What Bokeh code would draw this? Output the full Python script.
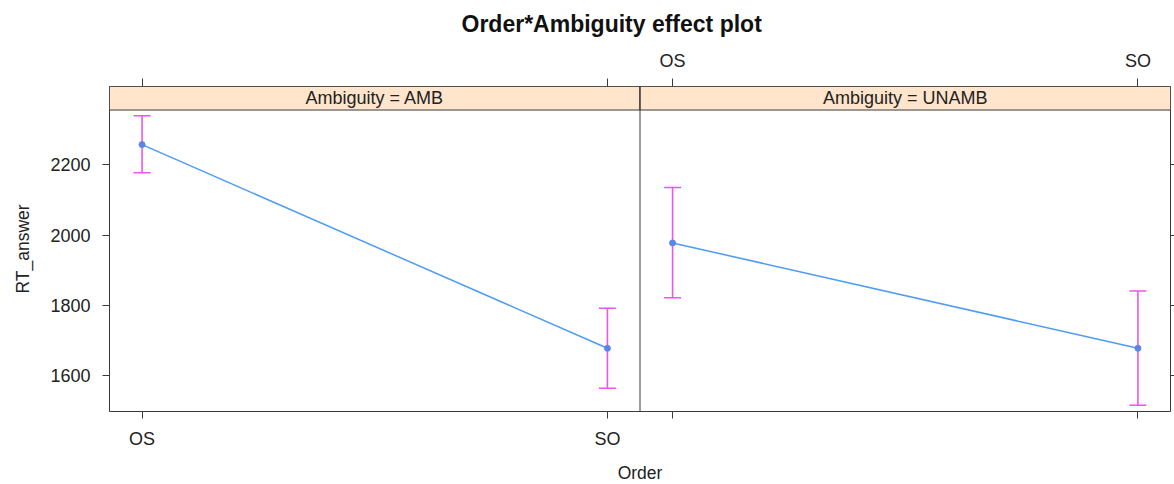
from bokeh.plotting import figure
from bokeh.models import (Range1d, FixedTicker, LinearAxis, ColumnDataSource,
                          Whisker, TeeHead, Span)
from bokeh.core.properties import value
from bokeh.embed import file_html
from bokeh.resources import INLINE

# ---------------- data ----------------
orders = ["OS", "SO"]
panels = ["AMB", "UNAMB"]
fit_amb = [2258, 1678]
lower_amb = [2178, 1564]
upper_amb = [2340, 1792]
fit_unamb = [1978, 1678]
lower_unamb = [1822, 1516]
upper_unamb = [2136, 1841]
y_ticks = [1600, 1800, 2000, 2200]
strip_prefix = "Ambiguity = "
title_text = "Order*Ambiguity effect plot"
x_label = "Order"
y_label = "RT_answer"

fits = [fit_amb, fit_unamb]
lowers = [lower_amb, lower_unamb]
uppers = [upper_amb, upper_unamb]

# ---------------- layout helpers ----------------
PAD = 0.07                 # lattice axis padding
SPAN = 1 + 2 * PAD         # x-extent of one panel
Y_LO, Y_PANEL_TOP, Y_TOP = 1498, 2356.5, 2423.5

def xpos(pi, oi):
    return pi * SPAN + oi

FONT = "Liberation Sans"
INK = "#3a3a3a"
TXT = "#222222"
LINE_C = "#4d9bf5"
CI_C = "#ee55ee"

p = figure(frame_width=1061, frame_height=325,
           x_range=Range1d(-PAD, 2 * SPAN - PAD),
           y_range=Range1d(Y_LO, Y_TOP),
           output_backend="svg", toolbar_location=None,
           min_border_left=109, min_border_right=4,
           min_border_top=86, min_border_bottom=72)
p.grid.grid_line_color = None
p.outline_line_color = INK
p.outline_line_width = 1
p.background_fill_color = "white"
p.border_fill_color = "white"

# title
p.title.text = title_text
p.title.text_font = FONT
p.title.text_font_size = "23px"
p.title.text_font_style = "bold"
p.title.text_color = "#111111"
p.title.align = "left"
p.title.offset = 352
p.title.vertical_align = "top"
p.title.standoff = 18

def style_axis(ax, tick_len):
    ax.axis_line_color = None
    ax.major_tick_line_color = INK
    ax.minor_tick_line_color = INK
    ax.major_tick_in = 0
    ax.minor_tick_in = 0
    ax.major_tick_out = tick_len
    ax.minor_tick_out = tick_len
    ax.major_label_text_font = FONT
    ax.major_label_text_font_size = "18px"
    ax.major_label_text_color = TXT
    ax.axis_label_text_font = FONT
    ax.axis_label_text_font_size = "17.5px"
    ax.axis_label_text_font_style = "normal"
    ax.axis_label_text_color = TXT

left_ticks = [xpos(0, i) for i in range(len(orders))]
right_ticks = [xpos(1, i) for i in range(len(orders))]

# bottom axis: labels on first panel
bx = p.xaxis[0]
bx.ticker = FixedTicker(ticks=left_ticks, minor_ticks=right_ticks)
bx.major_label_overrides = {t: o for t, o in zip(left_ticks, orders)}
style_axis(bx, 7)
bx.major_label_standoff = 10
bx.axis_label = x_label
bx.axis_label_standoff = 11

# top axis: labels on second panel
tx = LinearAxis(ticker=FixedTicker(ticks=right_ticks, minor_ticks=left_ticks),
                major_label_overrides={t: o for t, o in zip(right_ticks, orders)})
style_axis(tx, 8)
tx.major_label_standoff = 8
p.add_layout(tx, "above")

# left axis
ly = p.yaxis[0]
ly.ticker = FixedTicker(ticks=y_ticks)
style_axis(ly, 7)
ly.major_label_standoff = 12
ly.axis_label = y_label
ly.axis_label_standoff = 14

# right axis: ticks only
ry = LinearAxis(ticker=FixedTicker(ticks=[], minor_ticks=y_ticks))
style_axis(ry, 4)
ry.major_label_standoff = 0
p.add_layout(ry, "right")

# strips
strip_src = ColumnDataSource(dict(
    left=[xpos(i, 0) - PAD for i in range(len(panels))],
    right=[xpos(i, 1) + PAD for i in range(len(panels))],
    xc=[xpos(i, 0.5) for i in range(len(panels))],
    label=[strip_prefix + pn for pn in panels],
))
p.quad(left="left", right="right", bottom=Y_PANEL_TOP, top=Y_TOP,
       source=strip_src, fill_color="#ffe5cc", line_color=INK, line_width=1)
p.text(x="xc", y=(Y_PANEL_TOP + Y_TOP) / 2, text="label", source=strip_src,
       text_align="center", text_baseline="middle",
       text_font=value(FONT), text_font_size="18px", text_color=TXT)

# panel divider
p.add_layout(Span(location=xpos(0, 1) + PAD, dimension="height",
                  line_color=INK, line_width=1))

# data
for pi, pn in enumerate(panels):
    src = ColumnDataSource(dict(
        x=[xpos(pi, oi) for oi in range(len(orders))],
        fit=fits[pi], lower=lowers[pi], upper=uppers[pi]))
    p.add_layout(Whisker(source=src, base="x", upper="upper", lower="lower",
                         dimension="height", line_color=CI_C, line_width=1.6,
                         upper_head=TeeHead(size=17, line_color=CI_C, line_width=1.6),
                         lower_head=TeeHead(size=17, line_color=CI_C, line_width=1.6)))
    p.line(x="x", y="fit", source=src, line_color=LINE_C, line_width=1.5)
    p.scatter(x="x", y="fit", source=src, size=6, fill_color="#5b86e8",
              line_color="#5b86e8")

open("out.html", "w").write(file_html(p, INLINE))
